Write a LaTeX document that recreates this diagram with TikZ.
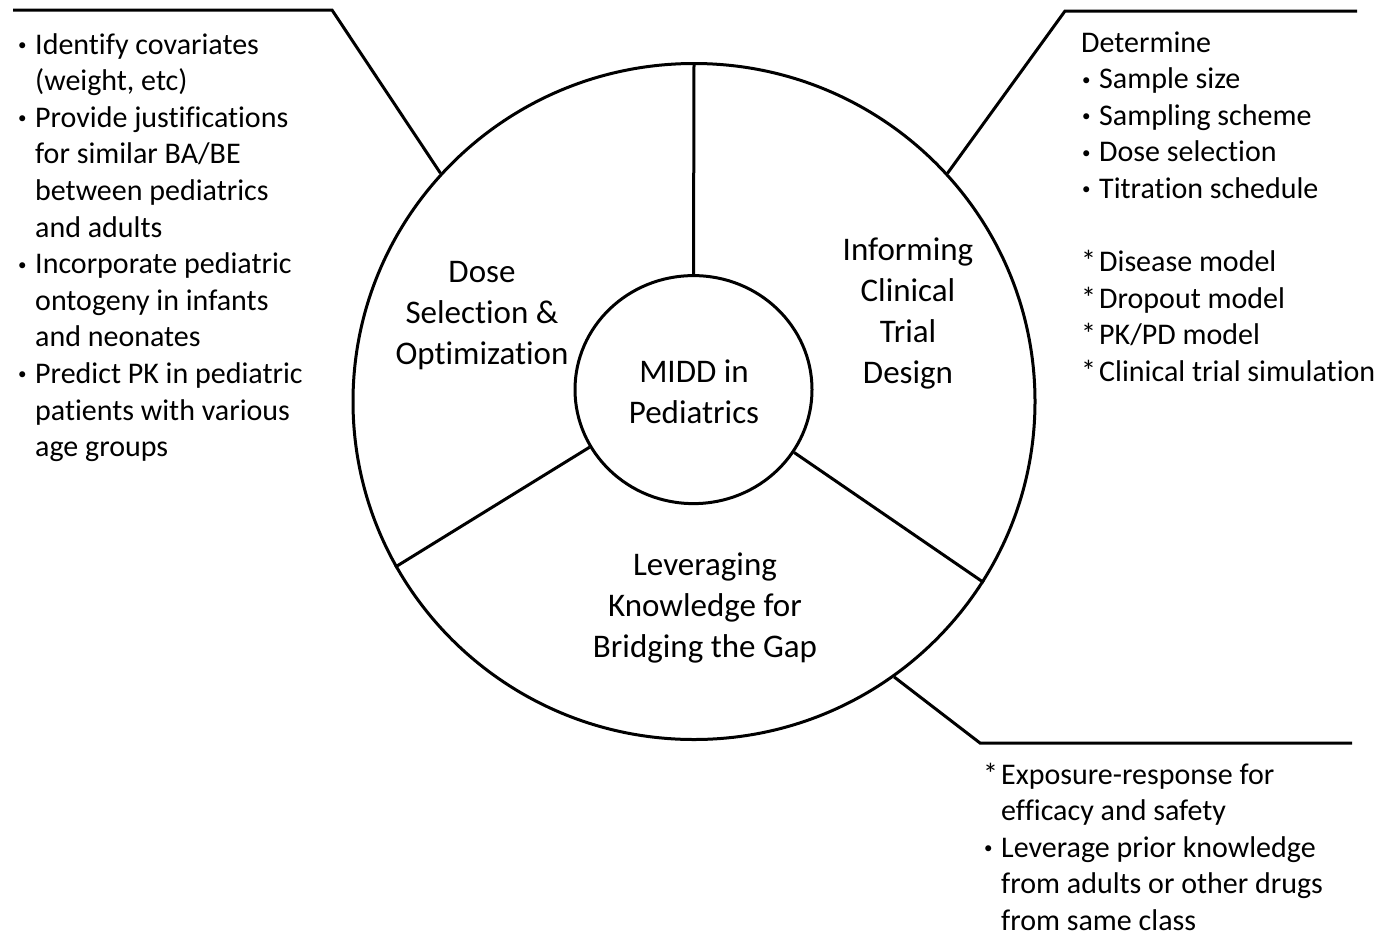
\documentclass[tikz,border=0pt]{standalone}
\usepackage{fontspec}
\setmainfont{Carlito}[Ligatures={NoCommon}]
\usetikzlibrary{shapes.geometric}

% list markers and the indent of continuation lines
\newcommand{\bul}{\makebox[18pt][l]{\hspace{1pt}\raisebox{3.5pt}{\fontsize{17}{17}\selectfont •}}}
\newcommand{\stx}{\makebox[18pt][l]{*}}
\newcommand{\lstind}{\hspace*{18pt}}

\begin{document}
\begin{tikzpicture}[x=1pt,y=-1pt,
  ring/.style={draw=black, line width=3pt, ellipse, inner sep=0pt},
  spoke/.style={draw=black, line width=3pt},
  lead/.style={draw=black, line width=3pt, line join=miter},
  notes/.style={inner sep=0pt, anchor=base west, font=\fontsize{30}{36.6}\selectfont},
  seglabel/.style={inner sep=0pt, anchor=base, font=\fontsize{33}{41}\selectfont}]
\useasboundingbox (0,0) rectangle (1380,935);

% wheel: outer ring, hub and the three dividing spokes
\node[ring, minimum width=682pt, minimum height=676pt] (outer) at (694,401.5) {};
\node[ring, minimum width=237pt, minimum height=228pt] (hub) at (693.5,389.6) {};
\draw[spoke] (hub.90) -- (outer.90);
\draw[spoke] (hub.209) -- (outer.209);
\draw[spoke] (hub.-32) -- (outer.-32);

% segment titles
\node[seglabel] (midd) at (694,382) {\parbox[t]{220pt}{\centering MIDD in\\Pediatrics}};
\node[seglabel] (dose) at (482,282) {\parbox[t]{260pt}{\centering Dose\\Selection \&\\Optimization}};
\node[seglabel] (trial) at (908,260) {\parbox[t]{220pt}{\centering Informing\\Clinical\\Trial\\Design}};
\node[seglabel] (gap) at (705,575) {\parbox[t]{320pt}{\centering Leveraging\\Knowledge for\\Bridging the Gap}};

% leader lines to the note blocks
\coordinate (tlknee) at (332,10);
\coordinate (tlend) at (13,10);
\draw[lead] (outer.138) -- (tlknee) -- (tlend);
\coordinate (trknee) at (1065,11);
\coordinate (trend) at (1357,11);
\draw[lead] (outer.42) -- (trknee) -- (trend);
\coordinate (brknee) at (980,743);
\coordinate (brend) at (1352,743);
\draw[lead] (outer.-54) -- (brknee) -- (brend);

% note blocks
\node[notes] (dosenotes) at (17,54) {\parbox[t]{340pt}{\raggedright
\bul Identify covariates\\
\lstind (weight, etc)\\
\bul Provide justifications\\
\lstind for similar BA/BE\\
\lstind between pediatrics\\
\lstind and adults\\
\bul Incorporate pediatric\\
\lstind ontogeny in infants\\
\lstind and neonates\\
\bul Predict PK in pediatric\\
\lstind patients with various\\
\lstind age groups}};

\node[notes] (trialnotes) at (1081,52) {\parbox[t]{300pt}{\raggedright
Determine\\
\bul Sample size\\
\bul Sampling scheme\\
\bul Dose selection\\
\bul Titration schedule\\
\mbox{}\\
\stx Disease model\\
\stx Dropout model\\
\stx PK/PD model\\
\stx Clinical trial simulation}};

\node[notes] (gapnotes) at (983,784) {\parbox[t]{380pt}{\raggedright
\stx Exposure-response for\\
\lstind efficacy and safety\\
\bul Leverage prior knowledge\\
\lstind from adults or other drugs\\
\lstind from same class}};
\end{tikzpicture}
\end{document}
